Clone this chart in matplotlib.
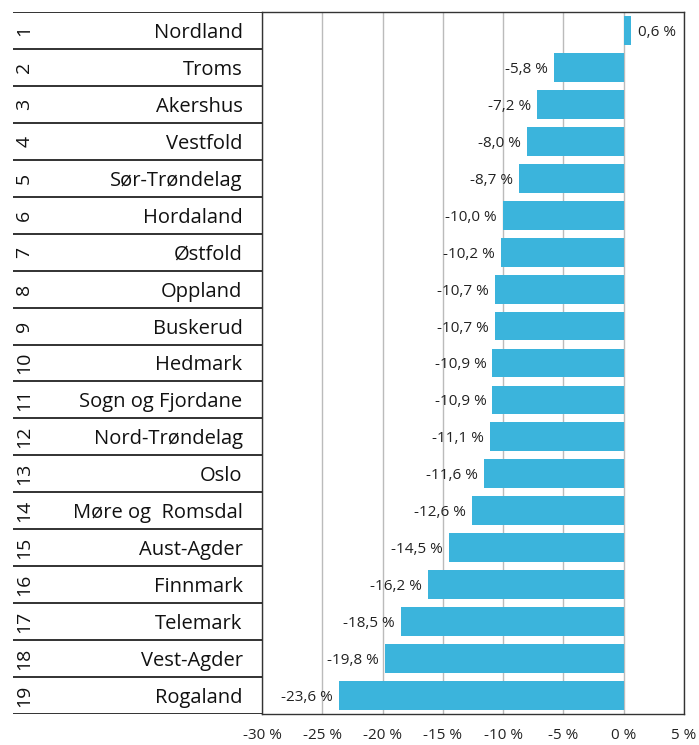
import matplotlib.pyplot as plt

regions = ["Nordland", "Troms", "Akershus", "Vestfold", "Sør-Trøndelag", "Hordaland",
           "Østfold", "Oppland", "Buskerud", "Hedmark", "Sogn og Fjordane",
           "Nord-Trøndelag", "Oslo", "Møre og  Romsdal", "Aust-Agder", "Finnmark",
           "Telemark", "Vest-Agder", "Rogaland"]
values = [0.6, -5.8, -7.2, -8.0, -8.7, -10.0, -10.2, -10.7, -10.7, -10.9, -10.9,
          -11.1, -11.6, -12.6, -14.5, -16.2, -18.5, -19.8, -23.6]
ticks = [-30, -25, -20, -15, -10, -5, 0, 5]

W, H = 699, 745
fig = plt.figure(figsize=(W / 100, H / 100), dpi=100)
plt.rcParams['font.family'] = ['Open Sans', 'DejaVu Sans']

left, right, top, bottom = 262, 684, 12, 714
ax = fig.add_axes([left / W, 1 - bottom / H, (right - left) / W, (bottom - top) / H])
tab = fig.add_axes([13 / W, 1 - bottom / H, (left - 13) / W, (bottom - top) / H])

n = len(regions)
ypos = list(range(n))

ax.barh(ypos, values, height=0.78, color="#3BB4DC", zorder=3)
for y, v in zip(ypos, values):
    txt = f"{v:.1f} %".replace(".", ",")
    if v >= 0:
        ax.text(v + 0.55, y, txt, ha="left", va="center_baseline", fontsize=11, color="#222222", zorder=4)
    else:
        ax.text(v - 0.5, y, txt, ha="right", va="center_baseline", fontsize=11, color="#222222", zorder=4)

ax.set_xlim(-30, 5)
ax.set_ylim(n - 0.5, -0.5)
ax.set_xticks(ticks)
ax.set_xticklabels([f"{t} %" for t in ticks], fontsize=11, color="#222222")
ax.tick_params(axis="x", length=0, pad=10)
ax.set_yticks([])
ax.grid(axis="x", color="#BBBBBB", linewidth=1, zorder=0)
for s in ax.spines.values():
    s.set_color("#333333")
    s.set_linewidth(1)

tab.set_xlim(0, 1)
tab.set_ylim(n - 0.5, -0.5)
tab.axis("off")
for i in range(n + 1):
    tab.axhline(i - 0.5, color="#222222", linewidth=1.3)
for y, name in zip(ypos, regions):
    tab.text(0.045, y, str(y + 1), rotation=90, ha="center", va="center", fontsize=14, color="#111111")
    tab.text(0.922, y, name, ha="right", va="center_baseline", fontsize=14.5, color="#111111")

fig.savefig("out.png", dpi=100)
